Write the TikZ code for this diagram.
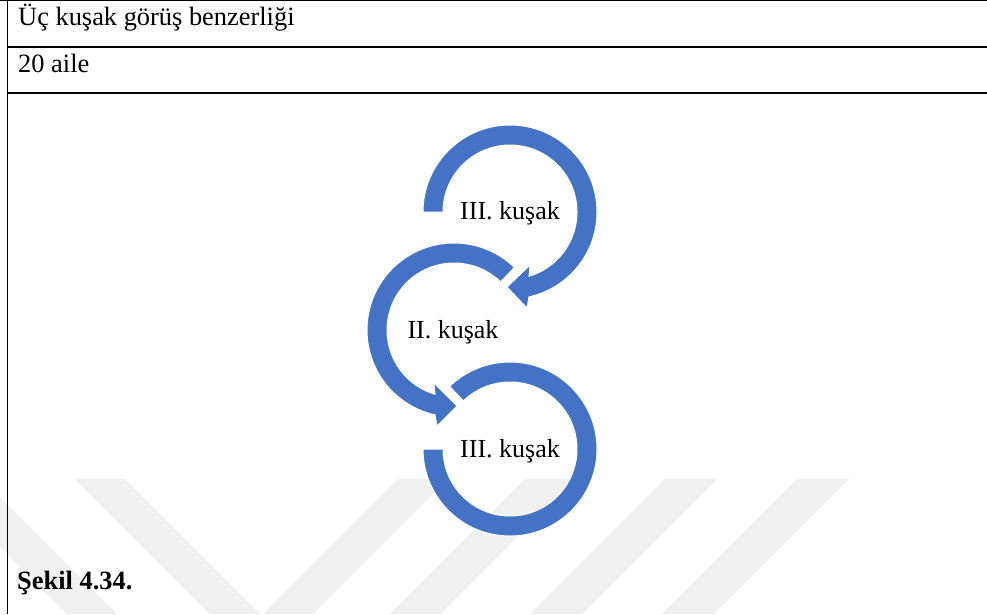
\documentclass[tikz,border=0pt]{standalone}
\usepackage{fontspec}
\setmainfont{Liberation Serif}
\definecolor{ringblue}{HTML}{4472C4}
\definecolor{wmgray}{HTML}{F0F0F0}
\begin{document}
\begin{tikzpicture}[x=1pt,y=1pt,
  txt/.style={font=\fontsize{26.4}{30}\selectfont, inner sep=0pt, anchor=base west},
  lbl/.style={font=\fontsize{26}{30}\selectfont, inner sep=0pt, anchor=base},
  ring/.style={fill=ringblue, draw=white, line width=1pt},
  wm/.style={fill=wmgray},
  rule/.style={line width=1.8pt, black}]
\useasboundingbox (0,0) rectangle (987,-614);
% watermark stripes
\fill[wm] (0,-497) -- (0,-547) -- (67,-614) -- (117,-614) -- cycle;
\fill[wm] (75,-479) -- (125,-479) -- (260,-614) -- (210,-614) -- cycle;
\fill[wm] (398,-479) -- (448,-479) -- (313,-614) -- (263,-614) -- cycle;
\fill[wm] (525,-479) -- (575,-479) -- (440,-614) -- (390,-614) -- cycle;
\fill[wm] (665,-479) -- (717,-479) -- (582,-614) -- (530,-614) -- cycle;
\fill[wm] (797,-479) -- (849,-479) -- (714,-614) -- (662,-614) -- cycle;
% table rules
\draw[line width=1pt] (0,-0.5) -- (987,-0.5);
\draw[rule] (7.5,0) -- (7.5,-614);
\draw[rule] (7.5,-46.7) -- (987,-46.7);
\draw[rule] (7.5,-93.3) -- (987,-93.3);
% texts
\node[txt] (h1) at (18,-25) {Üç kuşak görüş benzerliği};
\node[txt] (h2) at (18,-72) {20 aile};
\node[txt] (cap) at (17,-589) {\bfseries Şekil 4.34.};
% ring centres
\coordinate (c1) at (510,-212);
\coordinate (c2) at (454,-330);
\coordinate (c3) at (510,-449);
% top ring with arrow
\begin{scope}[shift={(c1)}]
\path[ring] (180:87) arc[start angle=180, end angle=-77.4, radius=87]
  -- (17,-96) -- (-3,-75) -- (20,-53) -- (-73.5:67)
  arc[start angle=-73.5, end angle=180, radius=67] -- cycle;
\end{scope}
% middle ring with arrow
\begin{scope}[shift={(c2)}]
\path[ring] (46:87) arc[start angle=46, end angle=257.4, radius=87]
  -- (-17,-96) -- (3,-76) -- (-20,-53) -- (253.5:67)
  arc[start angle=253.5, end angle=46, radius=67] -- cycle;
\end{scope}
% bottom ring
\begin{scope}[shift={(c3)}]
\path[ring] (180:87) arc[start angle=180, end angle=494, radius=87]
  -- (134:67) arc[start angle=134, end angle=-180, radius=67] -- cycle;
\end{scope}
% labels
\node[lbl] (l1) at ([yshift=-7pt]c1) {III. kuşak};
\node[lbl] (l2) at ([yshift=-8pt,xshift=-1pt]c2) {II. kuşak};
\node[lbl] (l3) at ([yshift=-8pt]c3) {III. kuşak};
\end{tikzpicture}
\end{document}
